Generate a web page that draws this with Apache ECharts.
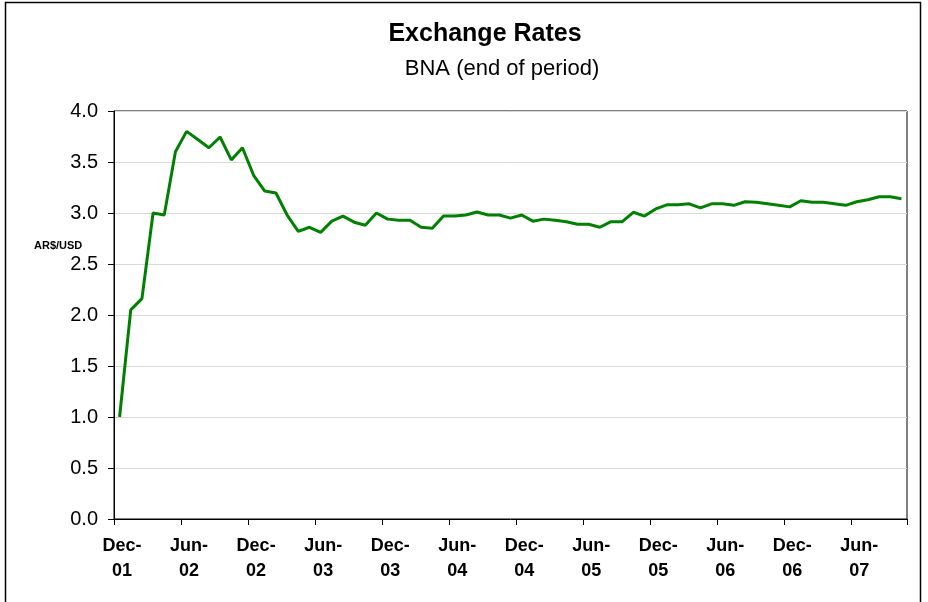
<!DOCTYPE html>
<html>
<head>
<meta charset="utf-8">
<script src="https://cdn.jsdelivr.net/npm/echarts@6/dist/echarts.min.js"></script>
<style>
html,body{margin:0;padding:0;background:#fff;}
#chart{width:928px;height:602px;}
</style>
</head>
<body>
<div id="chart"></div>
<script>
var categories = [
  'Dec-01',
  'Jan-02','Feb-02','Mar-02','Apr-02','May-02','Jun-02','Jul-02','Aug-02','Sep-02','Oct-02','Nov-02','Dec-02',
  'Jan-03','Feb-03','Mar-03','Apr-03','May-03','Jun-03','Jul-03','Aug-03','Sep-03','Oct-03','Nov-03','Dec-03',
  'Jan-04','Feb-04','Mar-04','Apr-04','May-04','Jun-04','Jul-04','Aug-04','Sep-04','Oct-04','Nov-04','Dec-04',
  'Jan-05','Feb-05','Mar-05','Apr-05','May-05','Jun-05','Jul-05','Aug-05','Sep-05','Oct-05','Nov-05','Dec-05',
  'Jan-06','Feb-06','Mar-06','Apr-06','May-06','Jun-06','Jul-06','Aug-06','Sep-06','Oct-06','Nov-06','Dec-06',
  'Jan-07','Feb-07','Mar-07','Apr-07','May-07','Jun-07','Jul-07','Aug-07','Sep-07','Oct-07'
];
var exchangeRate = [
  1.00,
  2.05, 2.16, 3.00, 2.98, 3.60, 3.80, 3.72, 3.64, 3.745, 3.52, 3.64, 3.37,
  3.215, 3.196, 2.98, 2.82, 2.86, 2.81, 2.92, 2.97, 2.91, 2.88, 3.00, 2.94,
  2.93, 2.93, 2.86, 2.85, 2.97, 2.97, 2.98, 3.01, 2.98, 2.98, 2.95, 2.98,
  2.92, 2.94, 2.93, 2.915, 2.89, 2.89, 2.86, 2.915, 2.915, 3.007, 2.97, 3.04,
  3.08, 3.08, 3.09, 3.05, 3.09, 3.09, 3.075, 3.11, 3.105, 3.09, 3.075, 3.06,
  3.12, 3.105, 3.105, 3.09, 3.075, 3.11, 3.13, 3.16, 3.16, 3.14
];
var titleText = 'Exchange Rates';
var subtitleText = 'BNA (end of period)';
var yAxisName = 'AR$/USD';

var FONT = '"Liberation Sans", Arial, sans-serif';
var chart = echarts.init(document.getElementById('chart'), null, {renderer: 'canvas'});
chart.setOption({
  animation: false,
  backgroundColor: '#ffffff',
  title: [
    {text: titleText, left: 480, top: 17, textAlign: 'center',
     textStyle: {fontFamily: FONT, fontSize: 25, fontWeight: 'bold', color: '#000'}},
    {text: subtitleText, left: 497, top: 53, textAlign: 'center',
     textStyle: {fontFamily: FONT, fontSize: 22, fontWeight: 'normal', color: '#000'}}
  ],
  graphic: [
    {type: 'rect', shape: {x: 5.5, y: 2.5, width: 915, height: 700},
     style: {fill: 'none', stroke: '#000', lineWidth: 1.5}, silent: true},
    {type: 'text', left: 34, top: 240,
     style: {text: yAxisName, fontFamily: FONT, fontSize: 11, fontWeight: 'bold', fill: '#000'}}
  ],
  grid: {left: 114, right: 21, top: 111, bottom: 83, show: true,
         borderColor: '#000', borderWidth: 1, backgroundColor: 'transparent'},
  xAxis: {
    type: 'category',
    data: categories,
    boundaryGap: true,
    axisLine: {lineStyle: {color: '#000', width: 1}},
    axisTick: {show: true, interval: 5, length: 6, lineStyle: {color: '#000'}},
    axisLabel: {
      interval: 5, margin: 15, color: '#000', fontFamily: FONT, fontSize: 18,
      fontWeight: 'bold', lineHeight: 25, padding: [0, 0, 0, 5],
      formatter: function (s) { return s.replace('-', '-\n'); }
    },
    splitLine: {show: false}
  },
  yAxis: {
    type: 'value', min: 0, max: 4, interval: 0.5,
    axisLine: {show: true, lineStyle: {color: '#000', width: 1}},
    axisTick: {show: true, length: 6, lineStyle: {color: '#000'}},
    axisLabel: {margin: 16, color: '#000', fontFamily: FONT, fontSize: 20,
      formatter: function (v) { return v.toFixed(1); }},
    splitLine: {show: true, lineStyle: {color: '#d9d9d9', width: 1}}
  },
  series: [{
    type: 'line',
    data: exchangeRate,
    symbol: 'none',
    lineStyle: {color: '#008000', width: 3},
    itemStyle: {color: '#008000'}
  }]
});
</script>
</body>
</html>
